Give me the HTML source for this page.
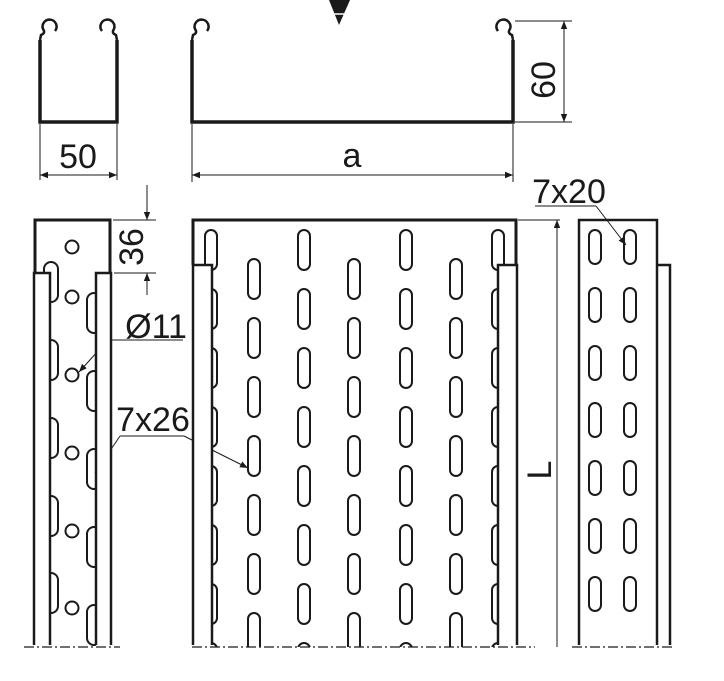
<!DOCTYPE html>
<html><head><meta charset="utf-8"><style>
html,body{margin:0;padding:0;background:#fff;}
svg{display:block;}
text{font-family:"Liberation Sans",Arial,sans-serif;fill:#1a1a1a;}
</style></head><body>
<svg width="724" height="681" viewBox="0 0 724 681" xmlns="http://www.w3.org/2000/svg">
<defs>
<marker id="ar" viewBox="0 0 10 10" refX="10" refY="5" markerWidth="12" markerHeight="8" orient="auto-start-reverse" markerUnits="userSpaceOnUse">
<path d="M0,1 L10,5 L0,9 z" fill="#1a1a1a"/></marker>
<clipPath id="mid"><rect x="193" y="220" width="323" height="427"/></clipPath>
<clipPath id="rp"><rect x="579" y="220" width="78" height="427"/></clipPath>
<clipPath id="lp"><rect x="35" y="220" width="76" height="427"/></clipPath>
</defs>
<g stroke="#1a1a1a" fill="none">
<path d="M329,0 L350,0 L339,25 z" fill="#1a1a1a" stroke="none"/>
<line x1="331" y1="14" x2="348" y2="14" stroke="#fff" stroke-width="1.5"/>

<path d="M40,40 L40,122 L117,122 L117,40" stroke-width="3.5"/>
<path d="M40,40 L41,35 Q46,33 43,29 A7,7 0 1 1 55,31" stroke-width="2.5"/>
<path d="M117,40 L116,35 Q111,33 114,29 A7,7 0 1 0 102,31" stroke-width="2.5"/>
<path d="M192,40 L192,122 L513,122 L513,40" stroke-width="3.5"/>
<path d="M192,40 L193,35 Q198,33 195,29 A7,7 0 1 1 207,31" stroke-width="2.5"/>
<path d="M513,40 L512,35 Q507,33 510,29 A7,7 0 1 0 498,31" stroke-width="2.5"/>

<g stroke-width="1">
<line x1="40" y1="124" x2="40" y2="180"/><line x1="117" y1="124" x2="117" y2="180"/>
<line x1="40" y1="175" x2="117" y2="175" marker-start="url(#ar)" marker-end="url(#ar)"/>
<line x1="192" y1="124" x2="192" y2="182"/><line x1="513" y1="124" x2="513" y2="182"/>
<line x1="192" y1="175" x2="513" y2="175" marker-start="url(#ar)" marker-end="url(#ar)"/>
<line x1="515" y1="21" x2="572" y2="21"/><line x1="515" y1="122" x2="572" y2="122"/>
<line x1="564" y1="21" x2="564" y2="122" marker-start="url(#ar)" marker-end="url(#ar)"/>
<line x1="113" y1="220" x2="156" y2="220"/><line x1="114" y1="273" x2="156" y2="273"/>
<line x1="147" y1="185" x2="147" y2="220" marker-end="url(#ar)"/>
<line x1="147" y1="295" x2="147" y2="273" marker-end="url(#ar)"/>
<line x1="518" y1="220" x2="560" y2="220"/>
<line x1="557" y1="647" x2="557" y2="220" marker-end="url(#ar)"/>
<line x1="535" y1="206" x2="596" y2="206"/><line x1="596" y1="206" x2="626" y2="245" marker-end="url(#ar)"/>
<line x1="108" y1="340" x2="183" y2="340"/><line x1="108" y1="340" x2="79" y2="372" marker-end="url(#ar)"/>
<line x1="120" y1="436" x2="184" y2="436"/><line x1="120" y1="436" x2="95" y2="473" marker-end="url(#ar)"/><line x1="184" y1="436" x2="248" y2="468" marker-end="url(#ar)"/>
</g>

<g clip-path="url(#lp)" stroke-width="2">
<circle cx="72" cy="247" r="6.5"/><circle cx="72" cy="297" r="6.5"/><circle cx="72" cy="375" r="6.5"/>
<circle cx="72" cy="453" r="6.5"/><circle cx="72" cy="531" r="6.5"/><circle cx="72" cy="608" r="6.5"/>
<rect x="44" y="262" width="14" height="40" rx="7"/><rect x="44" y="340" width="14" height="40" rx="7"/>
<rect x="44" y="418" width="14" height="40" rx="7"/><rect x="44" y="496" width="14" height="40" rx="7"/>
<rect x="44" y="573" width="14" height="40" rx="7"/>
<rect x="87" y="293" width="14" height="40" rx="7"/><rect x="87" y="371" width="14" height="40" rx="7"/>
<rect x="87" y="449" width="14" height="40" rx="7"/><rect x="87" y="527" width="14" height="40" rx="7"/>
<rect x="87" y="605" width="14" height="40" rx="7"/>
<rect x="35" y="273" width="15" height="380" fill="#fff" stroke="none"/>
<rect x="96" y="273" width="15" height="380" fill="#fff" stroke="none"/>
</g>
<path d="M35,273 L35,220 L110,220 L110,273" stroke-width="3"/>
<g stroke-width="2.5">
<path d="M34,645 L34,273 L50,273 L50,645"/>
<path d="M96,645 L96,273 L111,273 L111,645"/>
</g>

<g clip-path="url(#mid)" stroke-width="2">
<g id="colA">
<rect x="205" y="230" width="12" height="40" rx="6"/><rect x="205" y="289" width="12" height="40" rx="6"/>
<rect x="205" y="348" width="12" height="40" rx="6"/><rect x="205" y="407" width="12" height="40" rx="6"/>
<rect x="205" y="466" width="12" height="40" rx="6"/><rect x="205" y="525" width="12" height="40" rx="6"/>
<rect x="205" y="584" width="12" height="40" rx="6"/><rect x="205" y="643" width="12" height="40" rx="6"/>
</g>
<use href="#colA" x="93"/><use href="#colA" x="195"/><use href="#colA" x="287"/>
<g id="colB">
<rect x="248" y="259" width="12" height="40" rx="6"/><rect x="248" y="318" width="12" height="40" rx="6"/>
<rect x="248" y="377" width="12" height="40" rx="6"/><rect x="248" y="436" width="12" height="40" rx="6"/>
<rect x="248" y="495" width="12" height="40" rx="6"/><rect x="248" y="554" width="12" height="40" rx="6"/>
<rect x="248" y="613" width="12" height="40" rx="6"/>
</g>
<use href="#colB" x="100"/><use href="#colB" x="202"/>
<rect x="193" y="265" width="19" height="390" fill="#fff" stroke="none"/>
<rect x="498" y="265" width="19" height="390" fill="#fff" stroke="none"/>
</g>
<path d="M193,265 L193,220 L516,220 L516,265" stroke-width="3"/>
<g stroke-width="2.5">
<path d="M193,645 L193,265 L212,265 L212,645"/>
<path d="M498,645 L498,265 L517,265 L517,645"/>
</g>

<g clip-path="url(#rp)" stroke-width="2">
<g id="colR">
<rect x="589" y="230" width="12" height="34" rx="6"/><rect x="589" y="288" width="12" height="34" rx="6"/>
<rect x="589" y="346" width="12" height="34" rx="6"/><rect x="589" y="403" width="12" height="34" rx="6"/>
<rect x="589" y="461" width="12" height="34" rx="6"/><rect x="589" y="519" width="12" height="34" rx="6"/>
<rect x="589" y="577" width="12" height="34" rx="6"/>
</g>
<use href="#colR" x="35"/>
</g>
<g stroke-width="2.5">
<path d="M579,645 L579,220 L657,220 L657,645"/>
<path d="M657,265 L670,265 L670,645"/>
</g>

<g stroke-width="1.2" stroke-dasharray="10,3,2,3">
<line x1="24" y1="647" x2="120" y2="647"/>
<line x1="192" y1="647" x2="535" y2="647"/>
<line x1="572" y1="647" x2="672" y2="647"/>
</g>
</g>

<text x="78" y="168" font-size="34" text-anchor="middle">50</text>
<text x="352" y="167" font-size="34" text-anchor="middle">a</text>
<text x="0" y="0" font-size="34" text-anchor="middle" transform="translate(555,80) rotate(-90)">60</text>
<text x="0" y="0" font-size="34" text-anchor="middle" transform="translate(143,247) rotate(-90)">36</text>
<text x="0" y="0" font-size="34" text-anchor="middle" transform="translate(551,470) rotate(-90)">L</text>
<text x="569" y="203" font-size="34" text-anchor="middle">7x20</text>
<text x="156" y="338" font-size="34" text-anchor="middle">Ø11</text>
<text x="153" y="431" font-size="34" text-anchor="middle">7x26</text>
</svg>
</body></html>
